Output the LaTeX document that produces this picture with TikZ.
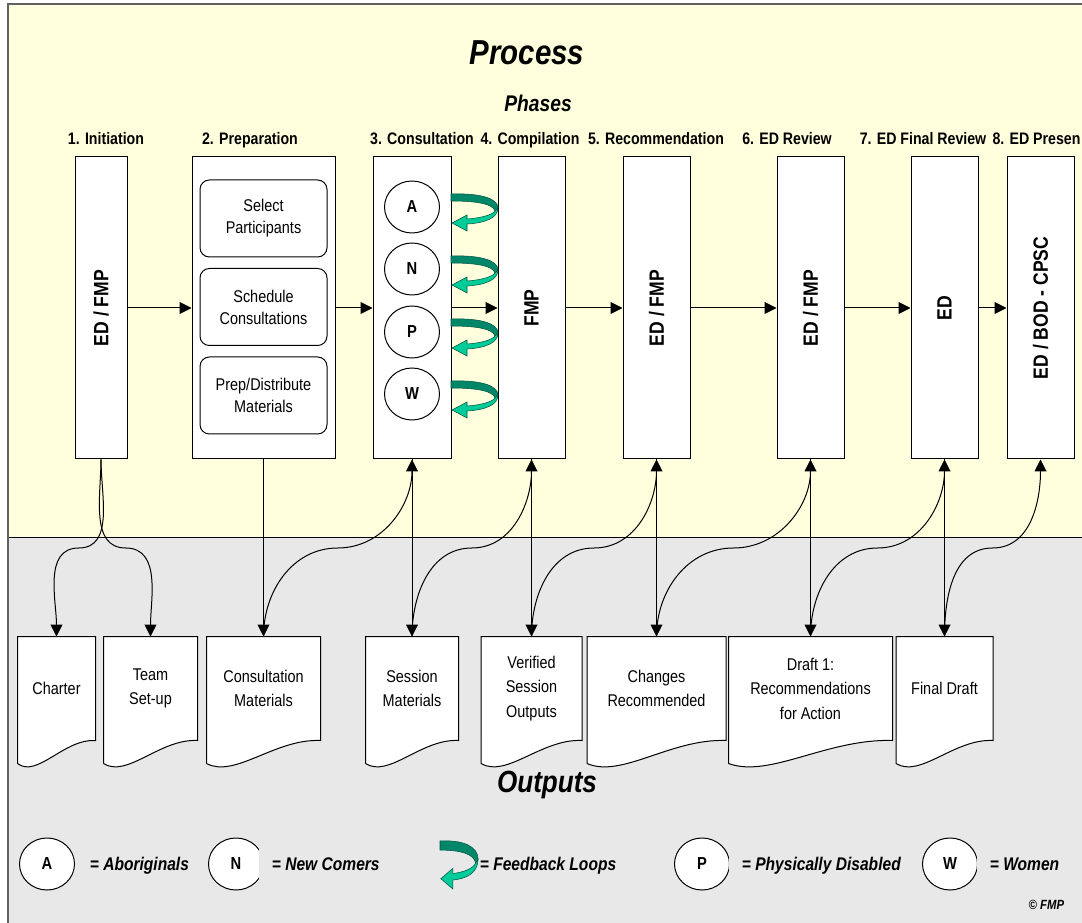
\documentclass[tikz,border=0pt]{standalone}
\usepackage{fontspec}
\setmainfont{Liberation Sans}[FakeStretch=0.85]
\usepackage{graphicx}
\usetikzlibrary{arrows.meta,calc,shapes.geometric}

\definecolor{procbg}{RGB}{255,255,221}
\definecolor{outbg}{RGB}{232,232,232}
\definecolor{framegray}{RGB}{96,96,96}
\definecolor{loopdark}{RGB}{0,135,105}
\definecolor{looplight}{RGB}{0,204,153}
\definecolor{loopedge}{RGB}{0,85,65}

\begin{document}
\begin{tikzpicture}[
                x=0.75pt,y=-0.75pt,
                line width=0.75pt,
                phase/.style={draw,fill=white,inner sep=0pt,minimum height=226.5pt,
                  font=\fontsize{15.5}{18}\selectfont\bfseries},
                task/.style={draw,fill=white,rounded corners=7pt,align=center,
                  minimum width=95.25pt,minimum height=57.75pt,
                  font=\fontsize{12.75}{16.5}\selectfont},
                grp/.style={draw,fill=white,ellipse,inner sep=0pt,minimum width=41.25pt,
                  minimum height=39pt,font=\fontsize{13}{15}\selectfont\bfseries},
                outdoc/.style={fill=white,inner sep=0pt,align=center,minimum height=77.25pt,
                  font=\fontsize{12.75}{18.4}\selectfont},
                lbl/.style={anchor=base,font=\fontsize{12.5}{15}\selectfont\bfseries},
                key/.style={anchor=west,fill=outbg,inner xsep=10pt,inner ysep=16pt,
                  text height=9.9pt,text depth=0pt,
                  font=\fontsize{13.75}{16}\selectfont\bfseries\itshape},
                flow/.style={-{Triangle[length=9pt,width=9pt]}},
                ]

\useasboundingbox (0,0) rectangle (1082,923);
\fill[white] (0,0) rectangle (1082,923);
\fill[procbg] (8,4) rectangle (1082,537);
\fill[outbg] (8,537) rectangle (1082,923);
\draw (8,537) -- (1082,537);
\draw[framegray,line width=1.5pt] (8,923) -- (8,4) -- (1082,4);

% titles
\node[anchor=base,font=\fontsize{26}{30}\selectfont\bfseries\itshape] (PROC) at (527,65) {Process};
\node[anchor=base,font=\fontsize{17}{20}\selectfont\bfseries\itshape] (PHAS) at (538,112) {Phases};
\node[anchor=base,font=\fontsize{23}{26}\selectfont\bfseries\itshape] (OUTP) at (547,792) {Outputs};

% phase labels
\node[lbl] (L1) at (106,145) {1. Initiation};
\node[lbl] (L2) at (250,145) {2. Preparation};
\node[lbl] (L3) at (422,145) {3. Consultation};
\node[lbl] (L4) at (530,145) {4. Compilation};
\node[lbl] (L5) at (656,145) {5. Recommendation};
\node[lbl] (L6) at (787,145) {6. ED Review};
\node[lbl] (L7) at (923,145) {7. ED Final Review};
\node[lbl,anchor=base west,inner xsep=0pt] (L8) at (992,145) {8. ED Presen};

% 1
\node[phase,minimum width=39pt] (INIT) at (101,308) {\rotatebox{90}{ED / FMP}};
% 2
\node[phase,minimum width=107.25pt] (PREP) at (263.5,308) {};
\node[task] (SEL) at (263.5,218.5) {Select\\Participants};
\node[task] (SCH) at (263.5,307) {Schedule\\Consultations};
\node[task] (PRD) at (263.5,395.5) {Prep/Distribute\\Materials};
% 3
\node[phase,minimum width=58.5pt] (CONS) at (412,308) {};
\node[grp] (CA) at (412,207) {A};
\node[grp] (CN) at (412,269) {N};
\node[grp] (CP) at (412,332) {P};
\node[grp] (CW) at (412,394) {W};
% 4 - 8
\node[phase,minimum width=50.25pt] (COMP) at (531.5,308) {\rotatebox{90}{FMP}};
\node[phase,minimum width=50.25pt] (RECO) at (656.5,308) {\rotatebox{90}{ED / FMP}};
\node[phase,minimum width=50.25pt] (EDREV) at (810.5,308) {\rotatebox{90}{ED / FMP}};
\node[phase,minimum width=50.25pt] (EDFIN) at (944.5,308) {\rotatebox{90}{ED}};
\node[phase,minimum width=50.25pt] (EDPRES) at (1040.5,308) {\rotatebox{90}{ED / BOD - CPSC}};

\draw[flow] (INIT) -- (PREP);
\draw[flow] (PREP) -- (CONS);
\draw[flow] (CONS) -- (COMP);
\draw[flow] (COMP) -- (RECO);
\draw[flow] (RECO) -- (EDREV);
\draw[flow] (EDREV) -- (EDFIN);
\draw[flow] (EDFIN) -- (EDPRES);

% feedback loops
\foreach \c in {CA,CN,CP,CW}{
  \begin{scope}[shift={($(\c.center)+(39,-13)$)},line width=0.4pt]
    \filldraw[fill=loopdark,draw=loopedge] (0,0) .. controls (28,-1) and (47,4) .. (47,14)
      -- (44,17) .. controls (42,10) and (26,7) .. (0,7) -- cycle;
    \filldraw[fill=looplight,draw=loopedge] (47,14) .. controls (47,24) and (34,29) .. (16,30)
      -- (16,37) -- (1,29) -- (16,21) -- (16,25) .. controls (30,24) and (41,21) .. (44,17) -- cycle;
  \end{scope}
}

% outputs
\node[outdoc,minimum width=57.75pt] (CHART) at (56.5,688.5) {Charter};
\node[outdoc,minimum width=69.75pt] (TEAM) at (150.5,688.5) {Team\\Set-up};
\node[outdoc,minimum width=84.75pt] (CMAT) at (263.5,688.5) {Consultation\\Materials};
\node[outdoc,minimum width=69pt] (SMAT) at (412,688.5) {Session\\Materials};
\node[outdoc,minimum width=75pt] (VSO) at (531.5,688.5) {Verified\\Session\\Outputs};
\node[outdoc,minimum width=103.5pt] (CHG) at (656.5,688.5) {Changes\\Recommended};
\node[outdoc,minimum width=122.25pt] (DRAFT) at (810.5,688.5) {Draft 1:\\Recommendations\\for Action};
\node[outdoc,minimum width=72pt] (FDRAFT) at (944.5,688.5) {Final Draft};

\foreach \d in {CHART,TEAM,CMAT,SMAT,VSO,CHG,DRAFT,FDRAFT}{
  \fill[white] ($(\d.south west)+(0,-4)$) -- ($(\d.south east)+(0,-4)$) -- (\d.south east)
    .. controls ($(\d.south east)!0.4!(\d.south west)+(0,-2)$)
    and ($(\d.south east)!0.75!(\d.south west)+(0,38)$) .. ($(\d.south west)+(0,23)$) -- cycle;
  \draw ($(\d.south west)+(0,23)$) -- (\d.north west) -- (\d.north east) -- (\d.south east)
    .. controls ($(\d.south east)!0.4!(\d.south west)+(0,-2)$)
    and ($(\d.south east)!0.75!(\d.south west)+(0,38)$) .. ($(\d.south west)+(0,23)$);
}

% phase -> output
\draw[flow] (INIT.south) to[out=-90,in=0] ($(INIT.south)!0.5!(CHART.north)$) to[out=180,in=90] (CHART.north);
\draw[flow] (INIT.south) to[out=-90,in=180] ($(INIT.south)!0.5!(TEAM.north)$) to[out=0,in=90] (TEAM.north);
\draw[flow] (PREP.south) -- (CMAT.north);
\foreach \src/\ph/\dst in {CMAT/CONS/SMAT,SMAT/COMP/VSO,VSO/RECO/CHG,CHG/EDREV/DRAFT,DRAFT/EDFIN/FDRAFT}{
  \draw[flow] (\src.north) to[out=90,in=180] ($(\src.north)!0.5!(\ph.south)$) to[out=0,in=-90] (\ph.south);
  \draw[flow] (\ph.south) -- (\dst.north);
}
\draw[flow] (FDRAFT.north) to[out=90,in=180] ($(FDRAFT.north)!0.5!(EDPRES.south)$) to[out=0,in=-90] (EDPRES.south);

% legend
\node[grp] (KA) at (47,864) {A};
\node[key] (KAT) at (76,864) {= Aboriginals};
\node[grp] (KN) at (236,864) {N};
\node[key] (KNT) at (258,864) {= New Comers};
\node[key,fill=none] (KFT) at (466,864) {= Feedback Loops};
\begin{scope}[shift={(440,841)},xscale=0.81,yscale=1.3,line width=0.4pt]
  \filldraw[fill=loopdark,draw=loopedge] (0,0) .. controls (28,-1) and (47,4) .. (47,14)
    -- (44,17) .. controls (42,10) and (26,7) .. (0,7) -- cycle;
  \filldraw[fill=looplight,draw=loopedge] (47,14) .. controls (47,24) and (34,29) .. (16,30)
    -- (16,37) -- (1,29) -- (16,21) -- (16,25) .. controls (30,24) and (41,21) .. (44,17) -- cycle;
\end{scope}
\node[grp] (KP) at (702,864) {P};
\node[key] (KPT) at (728,864) {= Physically Disabled};
\node[grp] (KW) at (950,864) {W};
\node[key] (KWT) at (976,864) {= Women};
\node[anchor=base east,font=\fontsize{10}{12}\selectfont\bfseries\itshape] (CPR) at (1069,909) {© FMP};

\end{tikzpicture}
\end{document}
